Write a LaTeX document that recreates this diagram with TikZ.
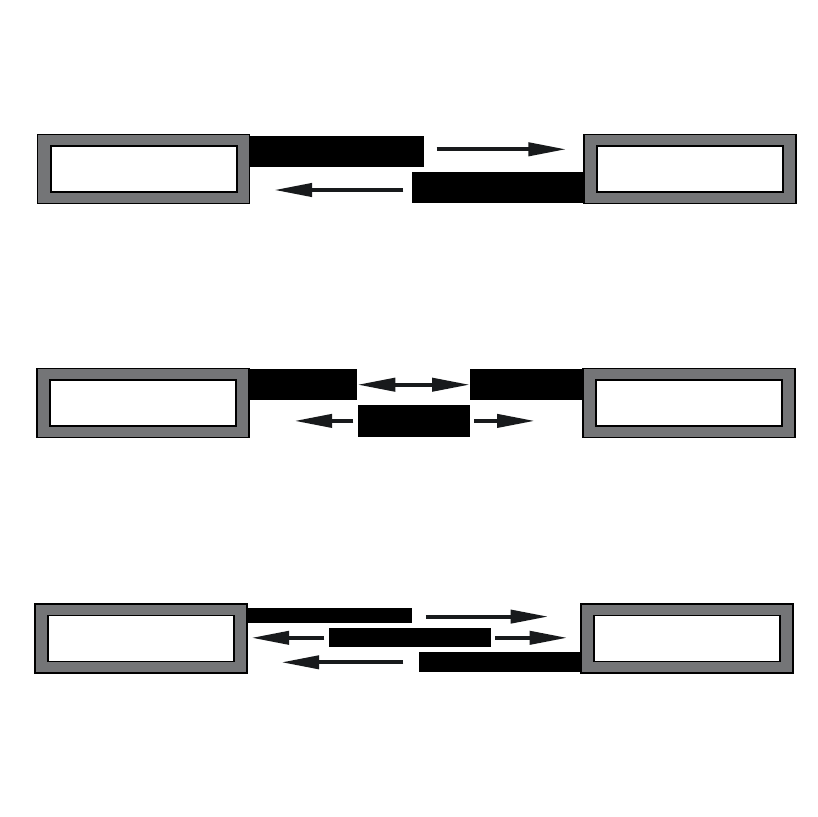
\documentclass[tikz,border=0pt]{standalone}
\usepackage{tikz}
\usetikzlibrary{positioning,arrows.meta}
\usepackage{xcolor}

\begin{document}
\begin{tikzpicture}[x=1pt,y=-1pt]
			% Define colors
			\definecolor{framegray}{RGB}{116, 117, 119}
			\definecolor{arrowink}{RGB}{24, 26, 28}

			% Styles
			\tikzstyle{host_outer} = [fill=framegray, draw=black, line width=1.4pt, minimum width=212pt, minimum height=69pt, inner sep=0pt, outer sep=0pt]
			\tikzstyle{host_inner} = [fill=white, draw=black, line width=1.6pt, minimum width=186pt, minimum height=46pt, inner sep=0pt, outer sep=0pt]
			\tikzstyle{black_bar} = [fill=black, draw=none, inner sep=0pt, outer sep=0pt]
			\tikzstyle{flow} = [draw=arrowink, line width=4pt, -{Triangle[length=38pt, width=13pt]}]
			\tikzstyle{flow_both} = [draw=arrowink, line width=4pt, {Triangle[length=38pt, width=13pt]}-{Triangle[length=38pt, width=13pt]}]

			\useasboundingbox (0,0) rectangle (817,817);

			% Row 1: two separate bars
			\node[host_outer] (L1) at (143.7, 169.2) {};
			\node[host_inner] (L1in) at (L1.center) {};
			\node[host_outer] (R1) at (690, 169.2) {};
			\node[host_inner] (R1in) at (R1.center) {};
			\node[black_bar, minimum width=174pt, minimum height=30.7pt] (T1) at (337, 151.3) {};
			\node[black_bar, minimum width=171.3pt, minimum height=31pt] (B1) at (497.3, 187.2) {};
			\draw[flow] ([xshift=12.7pt, yshift=2pt]T1.east) -- ([xshift=-17.6pt, yshift=2pt]T1.east -| R1.west);
			\draw[flow] ([xshift=-8.4pt, yshift=-2.8pt]B1.west) -- ([xshift=24.3pt, yshift=-2.8pt]B1.west -| L1.east);

			% Row 2: bars meeting in the middle
			\node[host_outer] (L2) at (143, 402.9) {};
			\node[host_inner] (L2in) at (L2.center) {};
			\node[host_outer] (R2) at (689, 402.9) {};
			\node[host_inner] (R2in) at (R2.center) {};
			\node[black_bar, minimum width=107.7pt, minimum height=31.3pt] (T2a) at (302.8, 384.7) {};
			\node[black_bar, minimum width=113pt, minimum height=31.3pt] (T2b) at (526.5, 384.7) {};
			\node[black_bar, minimum width=111.7pt, minimum height=31.7pt] (M2) at (414.2, 420.9) {};
			\draw[flow_both] ([xshift=0.6pt]T2a.east) -- (T2b.west);
			\draw[flow] ([xshift=-4.9pt]M2.west) -- ([xshift=-64.2pt]M2.west);
			\draw[flow] ([xshift=4.3pt]M2.east) -- ([xshift=65pt]M2.east);

			% Row 3: three staggered bars
			\node[host_outer] (L3) at (140.8, 638.3) {};
			\node[host_inner] (L3in) at (L3.center) {};
			\node[host_outer] (R3) at (687, 638.3) {};
			\node[host_inner] (R3in) at (R3.center) {};
			\node[black_bar, minimum width=164.7pt, minimum height=15pt] (T3) at (329.3, 615.8) {};
			\node[black_bar, minimum width=161.7pt, minimum height=19pt] (M3) at (409.8, 637.8) {};
			\node[black_bar, minimum width=162pt, minimum height=19.4pt] (B3) at (500, 662) {};
			\draw[flow] ([xshift=14.3pt, yshift=-0.8pt]T3.east) -- ([xshift=-32.4pt, yshift=-0.8pt]T3.east -| R3.west);
			\draw[flow] ([xshift=-4.7pt]M3.west) -- ([xshift=4.4pt]M3.west -| L3.east);
			\draw[flow] ([xshift=4.3pt]M3.east) -- ([xshift=-13.4pt]M3.east -| R3.west);
			\draw[flow] ([xshift=-15.7pt, yshift=-0.3pt]B3.west) -- ([xshift=34.4pt, yshift=-0.3pt]B3.west -| L3.east);

		\end{tikzpicture}
\end{document}
